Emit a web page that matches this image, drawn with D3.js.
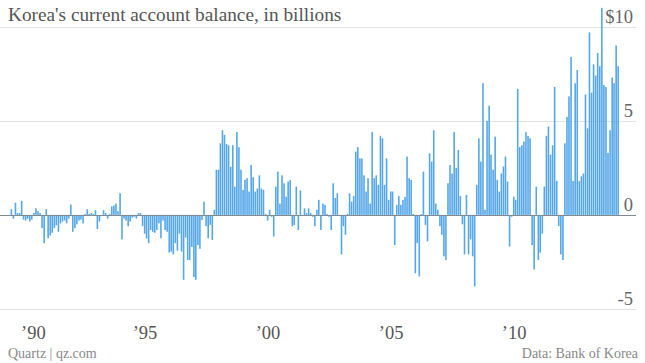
<!DOCTYPE html>
<html><head><meta charset="utf-8">
<script src="https://cdn.jsdelivr.net/npm/d3@7"></script>
<style>body{margin:0;background:#fff} svg{display:block}</style>
</head><body><svg id="c" width="645" height="363"></svg>
<script>
const title = "Korea's current account balance, in billions";
const sourceText = "Quartz | qz.com";
const creditText = "Data: Bank of Korea";
const firstMonth = "1989-09";
// monthly current account balance, US$ billions (Sep 1989 – May 2014)
const balance = [
  0.3, -0.2, 0.65, 0.1, 0.1, 0.75, -0.25, -0.3, -0.2, -0.35, -0.25, 0.1, 0.35, 0.2, 0.1, -0.7, -1.5, 0.3, -1.25, -1.1,
  -0.95, -0.7, -0.55, -0.9, -0.45, -0.35, -0.3, -0.45, -0.2, 0.55, -0.9, -0.7, -0.5, -0.3, -0.25,
  -0.45, 0.05, 0.3, 0.05, 0.1, 0.05, 0.25, -0.75, -0.35, -0.05, 0.25, 0.1, -0.2, 0.05, 0.45, 0.5, 0.6, 0.2, 1.15, -1.3,
  -0.2, -0.3, -0.6, -0.35, -0.15, -0.1, -0.2, 0.1, 0.1, -0.6, -1.0, -1.25, -1.5, -0.8, -0.9, -0.95, -0.8, -0.45, -1.24,
  -0.3, -0.8, -0.9, -2.0, -1.95, -2.1, -1.5, -1.9, -1.0, -1.95, -3.45, -1.2, -2.4, -2.4, -1.7, -3.3, -3.45, -1.6, -1.8, -0.27,
  0.7, -0.6, -1.24, -0.53, -1.33, 0.27, 2.4, 2.4, 3.8, 4.5, 4.25, 3.77, 3.7, 2.56, 3.7, 1.5, 4.4, 3.6, 2.4,
  1.33, 1.86, 1.95, 1.24, 2.65, 2.0, 1.24, 1.4, 2.1, 1.4, 1.33, 0.05, -0.3, 0.27, -0.1, -1.15, 1.5, 2.3, 0.6, 2.1,
  1.68, 0.97, 1.77, 1.86, -0.6, -0.53, 1.5, -0.8, 1.3, -0.05, 0.35, 0.1, 0.35, 0.1, -0.1, -0.6, 0.27, 0.8, -0.8,
  0.6, 0.53, 0.05, -0.1, -0.8, 1.68, 0.9, 1.15, -0.05, -2.1, -0.6, -1.06, 0.05, 1.15, 0.7, 1.0, 3.36, 3.6, 3.0, 3.0,
  2.1, 1.24, 1.95, 0.6, 4.4, 1.95, 2.1, 1.6, 4.2, 4.07, 1.6, 3.0, 0.8, 1.24, 1.24, -1.6, 0.53, 1.0,
  0.53, 0.8, 0.95, 3.1, 1.95, 1.86, 0.05, -3.1, -1.5, -3.27, 0.05, 2.3, -0.53, -1.4, 3.27, 2.83, 4.5, 0.6, 0.27, -0.6,
  -1.06, -2.2, -2.4, 1.68, 2.65, 2.2, 4.4, 2.5, 3.45, 1.0, -0.5, -2.1, 1.06, -2.1, -1.3, -2.2, -3.8, 1.6, 4.07, 2.83,
  7.0, 0.27, 5.0, 5.8, 3.2, 2.4, 4.16, 1.86, 1.24, 2.2, 2.57, 3.1, 1.77, -1.68, -0.1, 0.97, 0.8, 6.7, 3.6, 3.7,
  3.9, 4.4, 4.2, 4.07, -1.6, -2.9, 1.5,
  -2.4, -2.0, -1.0, 1.5, 4.2, 4.7, 3.2, 3.7, 6.8, 1.8, -0.6, -2.1, -2.4, 3.8, 5.2, 6.3,
  8.4, 1.8, 7.0, 7.7, 1.8, 2.05, 2.2, 6.4, 4.6, 9.7, 6.5, 8.0, 7.4, 8.6, 7.9, 11.0, 6.9, 6.8, 3.3, 4.5,
  7.3, 7.0, 9.0, 7.9
];
const yTicks = [-5, 0, 5, 10];
const yTickLabels = ["-5", "0", "5", "$10"];
const xTickYears = [1990, 1995, 2000, 2005, 2010];
const xTickLabels = ["\u201990", "\u201995", "\u201900", "\u201905", "\u201910"];

const svg = d3.select("#c");
const serif = "'Liberation Serif', 'DejaVu Serif', serif";

const start = d3.utcParse("%Y-%m")(firstMonth);
const months = balance.map((d, i) => d3.utcMonth.offset(start, i));
const end = d3.utcMonth.offset(start, balance.length);

const x = d3.scaleUtc().domain([start, end]).range([10.3, 619.2]);
const y = d3.scaleLinear().domain([-5, 10]).range([309, 26.7]);

// gridlines (non-zero)
svg.append("g").selectAll("line").data(yTicks.filter(t => t !== 0)).join("line")
  .attr("x1", 0).attr("x2", 636)
  .attr("y1", d => Math.round(y(d)) + 0.5).attr("y2", d => Math.round(y(d)) + 0.5)
  .attr("stroke", "#e2e2e2").attr("stroke-width", 1);

// bars
svg.append("g").selectAll("rect").data(balance).join("rect")
  .attr("x", (d, i) => x(months[i]) + 0.25)
  .attr("width", 1.6)
  .attr("y", d => y(Math.max(0, d)))
  .attr("height", d => Math.abs(y(d) - y(0)))
  .attr("fill", "#55a7e8");

// zero line
svg.append("line")
  .attr("x1", 0).attr("x2", 636)
  .attr("y1", Math.round(y(0)) + 0.5).attr("y2", Math.round(y(0)) + 0.5)
  .attr("stroke", "#7f8a94").attr("stroke-width", 1);

// y labels
svg.append("g").selectAll("text").data(yTicks).join("text")
  .attr("x", 633).attr("y", d => y(d) - 4)
  .attr("text-anchor", "end")
  .attr("font-family", serif).attr("font-size", 18.5).attr("fill", "#666")
  .text((d, i) => yTickLabels[i]);

// x axis
const xAxis = d3.axisBottom(x)
  .tickValues(xTickYears.map(yv => new Date(Date.UTC(yv, 0, 1))))
  .tickFormat((d, i) => xTickLabels[i])
  .tickSize(0).tickPadding(0);
const gx = svg.append("g").attr("transform", "translate(0,339)").call(xAxis);
gx.select(".domain").remove();
gx.selectAll("text")
  .attr("y", 0).attr("dy", 0)
  .attr("font-family", serif).attr("font-size", 18.5).attr("fill", "#555")
  .attr("dx", (d, i) => i === 0 ? 2 : 3)
  .attr("text-anchor", (d, i) => i === 0 ? "start" : "middle");

// title
svg.append("text").attr("x", 8).attr("y", 21)
  .attr("font-family", serif).attr("font-size", 19.3).attr("fill", "#555")
  .text(title);

// footer
svg.append("text").attr("x", 8).attr("y", 358)
  .attr("font-family", serif).attr("font-size", 14).attr("fill", "#888")
  .text(sourceText);
svg.append("text").attr("x", 638).attr("y", 358).attr("text-anchor", "end")
  .attr("font-family", serif).attr("font-size", 14).attr("fill", "#888")
  .text(creditText);
</script></body></html>
